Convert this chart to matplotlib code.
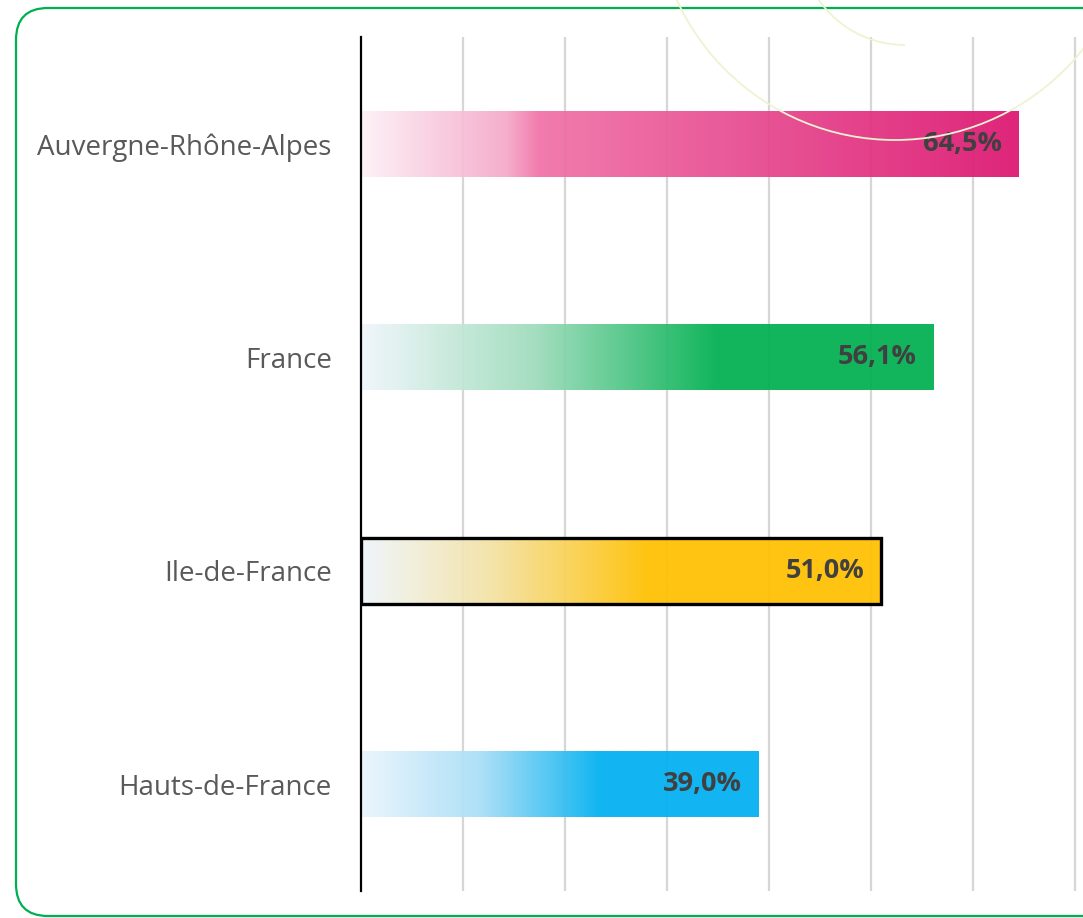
import numpy as np
import matplotlib
matplotlib.use("Agg")
import matplotlib.pyplot as plt
from matplotlib.colors import LinearSegmentedColormap
from matplotlib.patches import FancyBboxPatch, Arc, Rectangle

# part des répondants par territoire (%)
regions = ["Auvergne-Rhône-Alpes", "France", "Ile-de-France", "Hauts-de-France"]
values = [64.5, 56.1, 51.0, 39.0]
labels = ["64,5%", "56,1%", "51,0%", "39,0%"]

# dégradés clair -> couleur pleine pour chaque barre
gradients = [
    [(0.0, "#fdf1f6"), (0.22, "#f5a9c9"), (0.27, "#f072a7"), (1.0, "#dc1570")],
    [(0.0, "#f0f6fb"), (0.3, "#9fdcbc"), (0.62, "#00b050"), (1.0, "#00b050")],
    [(0.0, "#eef5fb"), (0.25, "#f4e2a4"), (0.55, "#ffc000"), (1.0, "#ffc000")],
    [(0.0, "#eaf5fc"), (0.3, "#a8def7"), (0.6, "#00b0f0"), (1.0, "#00b0f0")],
]
outlined = [False, False, True, False]

plt.rcParams["font.family"] = ["Open Sans", "DejaVu Sans"]

fig = plt.figure(figsize=(10.83, 9.18), dpi=100)
W, H = 1083, 918

# cadre arrondi vert (coupé à droite)
frame = FancyBboxPatch((16 / 100, (H - 916) / 100), 12.0, (916 - 8) / 100,
                       boxstyle="round,pad=0,rounding_size=0.32",
                       transform=fig.dpi_scale_trans, fill=False,
                       edgecolor="#00b050", linewidth=1.6, zorder=0)
fig.patches.append(frame)

# motif décoratif : arcs très pâles en haut à droite
for cx, cy, r, t1, t2 in [(895, -100, 240, 180, 360), (905, -60, 105, 205, 270)]:
    fig.patches.append(Arc((cx / 100, (H - cy) / 100), 2 * r / 100, 2 * r / 100,
                           theta1=t1, theta2=t2, transform=fig.dpi_scale_trans,
                           edgecolor="#eef3d2", linewidth=1.3, zorder=0))

ax = fig.add_axes([361 / W, 1 - 891 / H, (W - 361) / W, (891 - 37) / H])
ax.patch.set_alpha(0)

x_max = (W - 361) / 102 * 10
bar_h = 66 / 213.5
ypos = np.arange(len(regions))

# grille verticale tous les 10 %, sous les barres
for gx in range(10, 71, 10):
    ax.axvline(gx, color="#d6d6d6", linewidth=1.6, zorder=1)

for i, (v, stops) in enumerate(zip(values, gradients)):
    cmap = LinearSegmentedColormap.from_list(f"g{i}", stops)
    grad = np.linspace(0, 1, 256).reshape(1, -1)
    ax.imshow(grad, extent=[0, v, ypos[i] + bar_h / 2, ypos[i] - bar_h / 2],
              aspect="auto", cmap=cmap, zorder=2, alpha=0.93,
              interpolation="bilinear")
    if outlined[i]:
        ax.add_patch(Rectangle((0, ypos[i] - bar_h / 2), v, bar_h, fill=False,
                               edgecolor="black", linewidth=2.4, zorder=4))
    ax.annotate(labels[i], xy=(v, ypos[i]), xytext=(-12, 0),
                textcoords="offset points", ha="right", va="center",
                fontsize=19.5, fontweight="bold", color="#404040", zorder=5)

ax.set_xlim(0, x_max)
ax.set_ylim(len(regions) - 0.5, -0.5)

ax.set_yticks(ypos)
ax.set_yticklabels(regions, fontsize=20, color="#595959")
ax.tick_params(axis="y", length=0, pad=21)
ax.set_xticks([])
for s in ["top", "right", "bottom"]:
    ax.spines[s].set_visible(False)
ax.spines["left"].set_color("black")
ax.spines["left"].set_linewidth(1.6)
ax.spines["left"].set_zorder(6)

fig.savefig("out.png", dpi=100)
